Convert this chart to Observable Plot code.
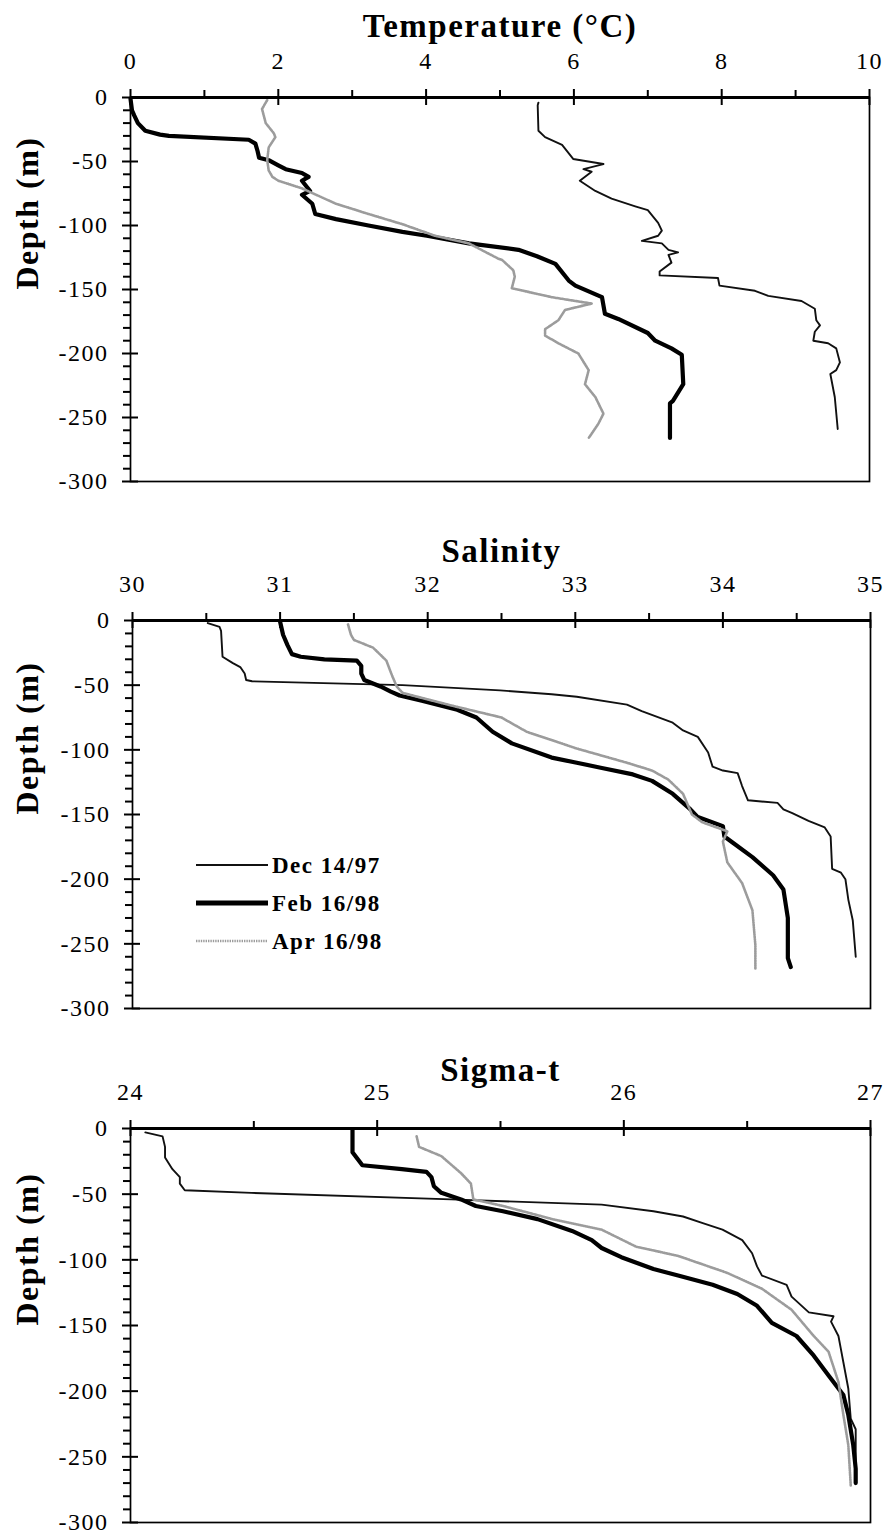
<!DOCTYPE html>
<html><head><meta charset="utf-8">
<script src="https://cdn.jsdelivr.net/npm/d3@7"></script>
<script src="https://cdn.jsdelivr.net/npm/@observablehq/plot@0.6"></script>
<style>
body{margin:0;background:#fff;}
#wrap{position:relative;width:888px;height:1537px;overflow:hidden;background:#fff;}
#wrap > svg{display:block;}
#legend{position:absolute;left:0;top:0;}
</style></head><body><div id="wrap"></div>
<script>
// ---- series ----
const seriesNames = ["Dec 14/97", "Feb 16/98", "Apr 16/98"];

// ---- Temperature (°C): [depth m, value] ----
const tempDec = [[-4,5.52],[-6,5.51],[-26,5.52],[-31,5.61],[-37,5.84],[-48,5.99],[-52,6.40],[-56,6.13],[-58,6.24],[-65,6.08],[-73,6.29],[-79,6.51],[-85,6.83],[-88,7.0],[-98,7.14],[-104,7.19],[-108,7.14],[-112,6.92],[-114,7.19],[-119,7.28],[-121,7.41],[-123,7.28],[-129,7.32],[-136,7.16],[-139,7.16],[-141,7.95],[-147,7.97],[-151,8.45],[-155,8.63],[-159,9.08],[-165,9.26],[-174,9.28],[-178,9.33],[-183,9.26],[-190,9.24],[-192,9.44],[-196,9.55],[-207,9.6],[-213,9.55],[-216,9.47],[-234,9.53],[-259,9.57]];
const tempFeb = [[-1,0.0],[-10,0.02],[-14,0.05],[-20,0.1],[-26,0.2],[-29,0.4],[-30,0.52],[-33,1.6],[-36,1.69],[-42,1.72],[-47,1.74],[-49,1.87],[-53,2.0],[-56,2.1],[-59,2.32],[-62,2.41],[-65,2.32],[-73,2.43],[-76,2.32],[-83,2.46],[-91,2.5],[-95,2.78],[-100,3.22],[-105,3.68],[-108,4.01],[-114,4.58],[-119,5.25],[-124,5.5],[-130,5.75],[-143,5.93],[-147,6.02],[-156,6.38],[-169,6.42],[-173,6.6],[-184,7.0],[-190,7.1],[-196,7.32],[-201,7.46],[-224,7.48],[-237,7.34],[-239,7.3],[-266,7.3]];
const tempApr = [[-2,1.85],[-9,1.78],[-20,1.83],[-28,1.94],[-31,1.96],[-39,1.87],[-49,1.85],[-57,1.87],[-62,1.92],[-65,2.0],[-71,2.32],[-83,2.78],[-91,3.22],[-99,3.68],[-108,4.12],[-114,4.58],[-126,4.98],[-127,5.03],[-135,5.18],[-140,5.2],[-149,5.16],[-156,5.7],[-161,6.24],[-166,5.88],[-174,5.79],[-181,5.61],[-186,5.61],[-192,5.79],[-200,6.06],[-213,6.2],[-224,6.15],[-234,6.29],[-247,6.4],[-255,6.33],[-266,6.2]];

// ---- Salinity ----
const salDec = [[-2,30.51],[-5,30.59],[-8,30.6],[-28,30.61],[-33,30.68],[-36,30.73],[-41,30.76],[-46,30.77],[-47,30.81],[-50,31.83],[-54,32.49],[-57,32.84],[-59,33.01],[-65,33.35],[-70,33.45],[-79,33.66],[-85,33.73],[-90,33.83],[-102,33.9],[-113,33.93],[-116,34.0],[-118,34.1],[-128,34.13],[-139,34.17],[-141,34.37],[-146,34.41],[-149,34.47],[-155,34.58],[-160,34.69],[-167,34.73],[-192,34.74],[-195,34.8],[-200,34.83],[-216,34.85],[-232,34.88],[-260,34.9]];
const salFeb = [[-1,31.0],[-11,31.02],[-19,31.05],[-26,31.08],[-28,31.14],[-30,31.3],[-31,31.52],[-35,31.55],[-41,31.55],[-46,31.57],[-51,31.68],[-55,31.75],[-58,31.81],[-62,31.96],[-69,32.2],[-75,32.33],[-86,32.44],[-95,32.57],[-106,32.84],[-110,33.01],[-114,33.18],[-119,33.39],[-124,33.52],[-134,33.66],[-146,33.78],[-152,33.83],[-159,34.0],[-167,34.01],[-172,34.07],[-183,34.2],[-197,34.34],[-208,34.41],[-230,34.44],[-261,34.44],[-268,34.46]];
const salApr = [[-3,31.46],[-11,31.48],[-15,31.5],[-21,31.63],[-31,31.72],[-43,31.76],[-51,31.79],[-56,31.83],[-66,32.17],[-75,32.5],[-86,32.67],[-99,33.01],[-110,33.35],[-116,33.52],[-123,33.63],[-134,33.73],[-150,33.79],[-156,33.86],[-163,34.03],[-171,34.0],[-187,34.03],[-203,34.13],[-224,34.2],[-251,34.22],[-269,34.22]];

// ---- Sigma-t ----
const sigDec = [[-3,24.06],[-6,24.13],[-14,24.14],[-22,24.14],[-31,24.17],[-37,24.2],[-42,24.2],[-47,24.22],[-49,24.49],[-54,25.3],[-58,25.91],[-63,26.12],[-67,26.24],[-72,26.32],[-77,26.4],[-85,26.48],[-95,26.52],[-105,26.54],[-112,26.56],[-119,26.66],[-128,26.68],[-140,26.75],[-143,26.85],[-147,26.84],[-158,26.87],[-168,26.88],[-178,26.89],[-198,26.91],[-221,26.92],[-229,26.94],[-260,26.94]];
const sigFeb = [[-1,24.9],[-18,24.9],[-23,24.92],[-28,24.94],[-31,25.1],[-33,25.2],[-37,25.22],[-44,25.23],[-49,25.26],[-54,25.34],[-59,25.4],[-63,25.51],[-69,25.65],[-78,25.79],[-85,25.87],[-91,25.91],[-98,25.99],[-107,26.12],[-112,26.22],[-119,26.36],[-126,26.46],[-135,26.54],[-148,26.6],[-158,26.7],[-173,26.77],[-188,26.83],[-203,26.89],[-218,26.91],[-241,26.93],[-259,26.94],[-270,26.94]];
const sigApr = [[-6,25.16],[-14,25.17],[-21,25.26],[-34,25.34],[-42,25.38],[-54,25.39],[-59,25.51],[-69,25.71],[-77,25.91],[-90,26.05],[-97,26.22],[-110,26.42],[-122,26.56],[-138,26.68],[-158,26.77],[-170,26.83],[-193,26.87],[-218,26.89],[-241,26.91],[-272,26.92]];

// ---- tick labels ----
const tempTicks = [0, 2, 4, 6, 8, 10];
const tempMinor = [1, 3, 5, 7, 9];
const salTicks = [30, 31, 32, 33, 34, 35];
const salMinor = [30.5, 31.5, 32.5, 33.5, 34.5];
const sigTicks = [24, 25, 26, 27];
const sigMinor = [24.5, 25.5, 26.5];
const depthTicks = [0, -50, -100, -150, -200, -250, -300];
const depthMinor = d3.range(-10, -300, -10).filter(d => d % 50 !== 0);

// ---- styles ----
const styles = [
  {stroke: "#111", strokeWidth: 1.9},
  {stroke: "#000", strokeWidth: 4.2},
  {stroke: "#9c9c9c", strokeWidth: 2.6, strokeDasharray: "1.4,1"}
];
const FONT = "'Liberation Serif', 'Times New Roman', Times, serif";

function panel({title, titleDy, domain, major, minor, series, height, mt, mb, ml, mr}) {
  const pw = 888 - ml - mr, ph = height - mt - mb;
  const lines = series.map((s, i) => Plot.line(
    s.map(([d, v]) => ({series: seriesNames[i], d, v})),
    {x: "v", y: "d", ...styles[i], strokeLinejoin: "round", strokeLinecap: "round"}
  ));
  return Plot.plot({
    width: 888, height, marginTop: mt, marginBottom: mb, marginLeft: ml, marginRight: mr,
    x: {domain, axis: null},
    y: {domain: [-300, 0], axis: null},
    style: `font-family:${FONT};background:white;overflow:visible;letter-spacing:1.5px;color:black;`,
    marks: [
      ...lines,
      Plot.frame({stroke: "black", strokeWidth: 1.7}),
      Plot.ruleY([0], {stroke: "black", strokeWidth: 2.8}),
      Plot.tickX(major, {x: d => d, insetTop: -8, insetBottom: ph - 8, stroke: "black", strokeWidth: 2}),
      Plot.tickX(minor, {x: d => d, insetTop: -7, insetBottom: ph, stroke: "black", strokeWidth: 2}),
      Plot.tickY(depthTicks, {y: d => d, insetLeft: -8, insetRight: pw - 8, stroke: "black", strokeWidth: 2}),
      Plot.tickY(depthMinor, {y: d => d, insetLeft: -7, insetRight: pw, stroke: "black", strokeWidth: 2}),
      Plot.text(major, {x: d => d, text: d => String(d), frameAnchor: "top", dy: -29, lineAnchor: "bottom", fontSize: 24, fill: "black"}),
      Plot.text(depthTicks, {y: d => d, text: d => String(d), frameAnchor: "left", dx: -22, textAnchor: "end", lineAnchor: "middle", fontSize: 24, fill: "black"}),
      Plot.text([title], {text: d => d, frameAnchor: "top", dy: -titleDy, lineAnchor: "bottom", fontSize: 33, fontWeight: "bold", fill: "black"}),
      Plot.text(["Depth (m)"], {text: d => d, frameAnchor: "left", dx: 27 - ml, rotate: -90, lineAnchor: "middle", fontSize: 32, fontWeight: "bold", fill: "black"})
    ]
  });
}

const wrap = document.getElementById("wrap");
wrap.appendChild(panel({title: "Temperature (°C)", titleDy: 61, domain: [0, 10], major: tempTicks, minor: tempMinor,
  series: [tempDec, tempFeb, tempApr], height: 525, mt: 97, mb: 44, ml: 130, mr: 19}));
wrap.appendChild(panel({title: "Salinity", titleDy: 59, domain: [30, 35], major: salTicks, minor: salMinor,
  series: [salDec, salFeb, salApr], height: 525, mt: 95, mb: 42, ml: 132, mr: 18}));
wrap.appendChild(panel({title: "Sigma-t", titleDy: 48, domain: [24, 27], major: sigTicks, minor: sigMinor,
  series: [sigDec, sigFeb, sigApr], height: 487, mt: 78, mb: 15, ml: 130, mr: 18}));

// ---- legend (over the salinity panel) ----
const leg = d3.select(wrap).append("svg").attr("id", "legend").attr("width", 888).attr("height", 1537)
  .style("pointer-events", "none");
const items = leg.selectAll("g").data(seriesNames).join("g")
  .attr("transform", (d, i) => `translate(196, ${865 + i * 38})`);
items.append("line").attr("x1", 0).attr("x2", 72).attr("y1", 0).attr("y2", 0)
  .attr("stroke", (d, i) => styles[i].stroke)
  .attr("stroke-width", (d, i) => styles[i].strokeWidth + (i === 1 ? 0.8 : 0))
  .attr("stroke-dasharray", (d, i) => styles[i].strokeDasharray || null);
items.append("text").attr("x", 76).attr("y", 0).attr("dy", "0.34em")
  .attr("font-family", FONT).attr("font-weight", "bold").attr("font-size", 23)
  .attr("letter-spacing", "1.5px").attr("fill", "black").text(d => d);
</script>
</body></html>
